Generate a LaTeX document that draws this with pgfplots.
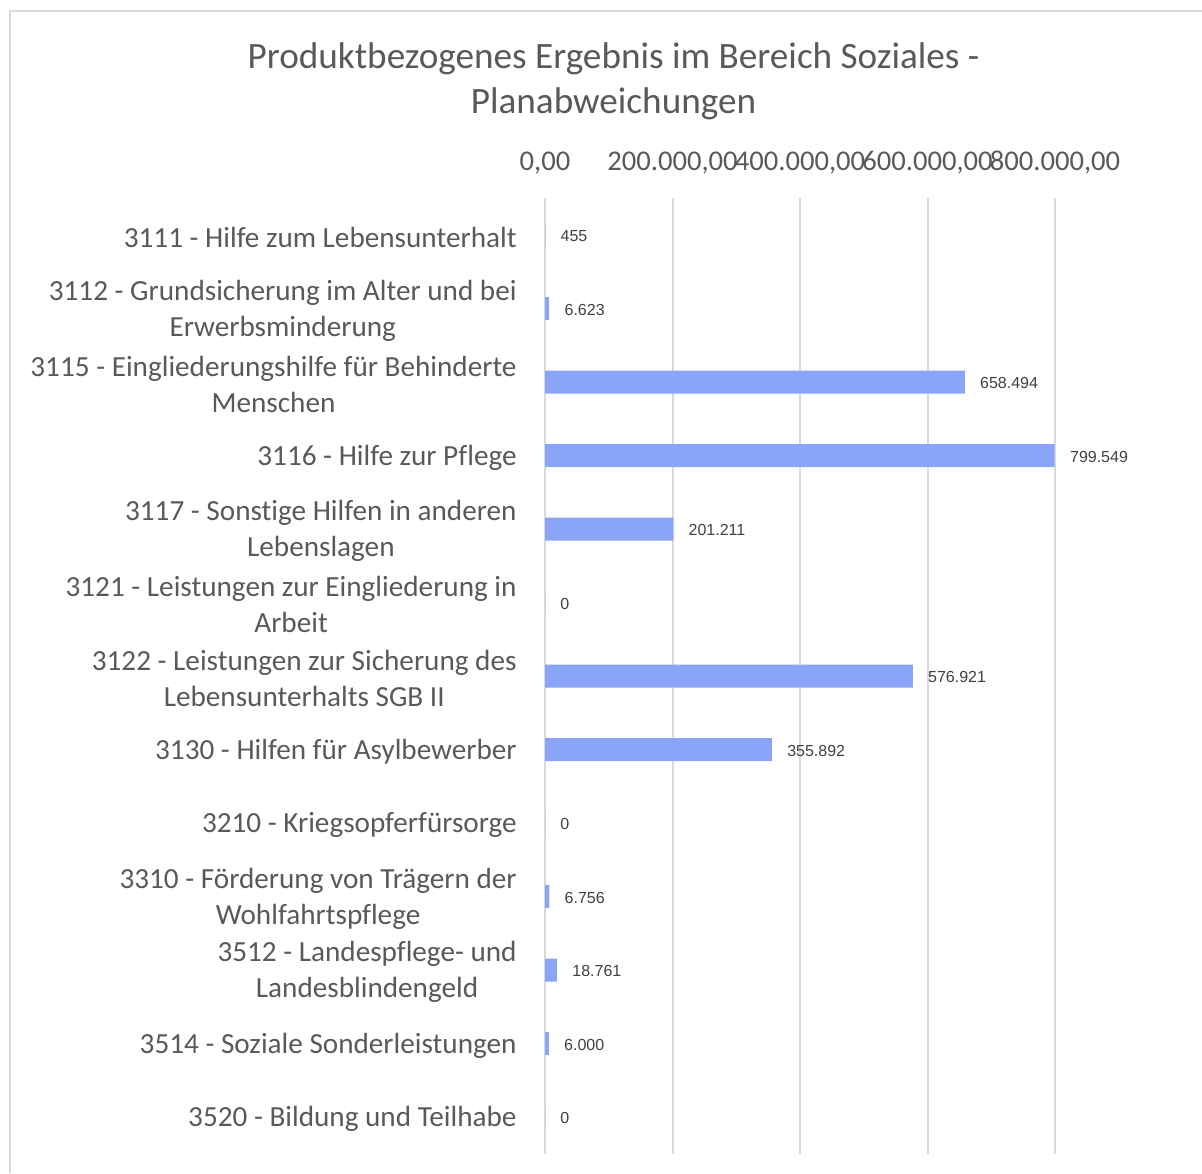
\documentclass[border=0pt]{standalone}
\usepackage{fontspec}
\setmainfont{Carlito}[Ligatures=NoCommon]
\newfontfamily\arialf{Liberation Sans}
\usepackage{pgfplots}
\pgfplotsset{compat=1.18}
\definecolor{barblue}{RGB}{138,165,248}
\definecolor{txtgray}{RGB}{89,89,89}
\definecolor{gridgray}{RGB}{217,217,217}
\definecolor{lblgray}{RGB}{64,64,64}
\begin{document}
\begin{tikzpicture}
\path[use as bounding box] (0,0) rectangle (601pt,586.5pt);
\draw[gridgray,line width=0.6pt] (5pt,0) -- (5pt,581pt) -- (601pt,581pt);
\node[align=center,text=txtgray,font={\fontsize{18.6}{22.5}\selectfont}] at (306.75pt,545.75pt)
 {Produktbezogenes Ergebnis im Bereich Soziales -\\Planabweichungen};
\begin{axis}[
  at={(272.5pt,9.625pt)}, anchor=south west,
  scale only axis, width=255pt, height=477.75pt,
  xbar, bar width=11.5pt,
  xmin=0, xmax=800000,
  ymin=-0.5, ymax=12.5, y dir=reverse,
  axis line style={draw=none},
  major tick length=0pt,
  tick style={draw=none},
  scaled x ticks=false,
  xmajorgrids, grid style={gridgray,line width=1pt},
  xtick={0,200000,400000,600000,800000},
  xticklabels={{0,00},{200.000,00},{400.000,00},{600.000,00},{800.000,00}},
  xticklabel pos=upper,
  xticklabel style={anchor=base,yshift=14.1pt,text=txtgray,font={\fontsize{14.3}{17}\selectfont}},
  ytick={0,...,12},
  yticklabels={
    {3111 - Hilfe zum Lebensunterhalt},
    {3112 - Grundsicherung im Alter und bei\\Erwerbsminderung},
    {3115 - Eingliederungshilfe für Behinderte\\Menschen},
    {3116 - Hilfe zur Pflege},
    {3117 - Sonstige Hilfen in anderen\\Lebenslagen},
    {3121 - Leistungen zur Eingliederung in\\Arbeit},
    {3122 - Leistungen zur Sicherung des\\Lebensunterhalts SGB II},
    {3130 - Hilfen für Asylbewerber},
    {3210 - Kriegsopferfürsorge},
    {3310 - Förderung von Trägern der\\Wohlfahrtspflege},
    {3512 - Landespflege- und\\Landesblindengeld},
    {3514 - Soziale Sonderleistungen},
    {3520 - Bildung und Teilhabe}},
  yticklabel style={anchor=east,align=center,inner sep=0pt,xshift=-14pt,yshift=-1pt,text=txtgray,font={\fontsize{14.6}{18}\selectfont}},
  nodes near coords,
  point meta=x,
  every node near coord/.append style={anchor=west,inner sep=0pt,xshift=7.5pt,yshift=-0.5pt,text=lblgray,font={\arialf\fontsize{8}{9.6}\selectfont},
    /pgf/number format/.cd, fixed, precision=0, 1000 sep={.}, use comma, assume math mode=true},
  clip=false,
]
\addplot[fill=barblue,draw=none] coordinates {
(455,0) (6623,1) (658494,2) (799549,3) (201211,4) (0,5) (576921,6)
(355892,7) (0,8) (6756,9) (18761,10) (6000,11) (0,12)};
\end{axis}
\end{tikzpicture}
\end{document}
